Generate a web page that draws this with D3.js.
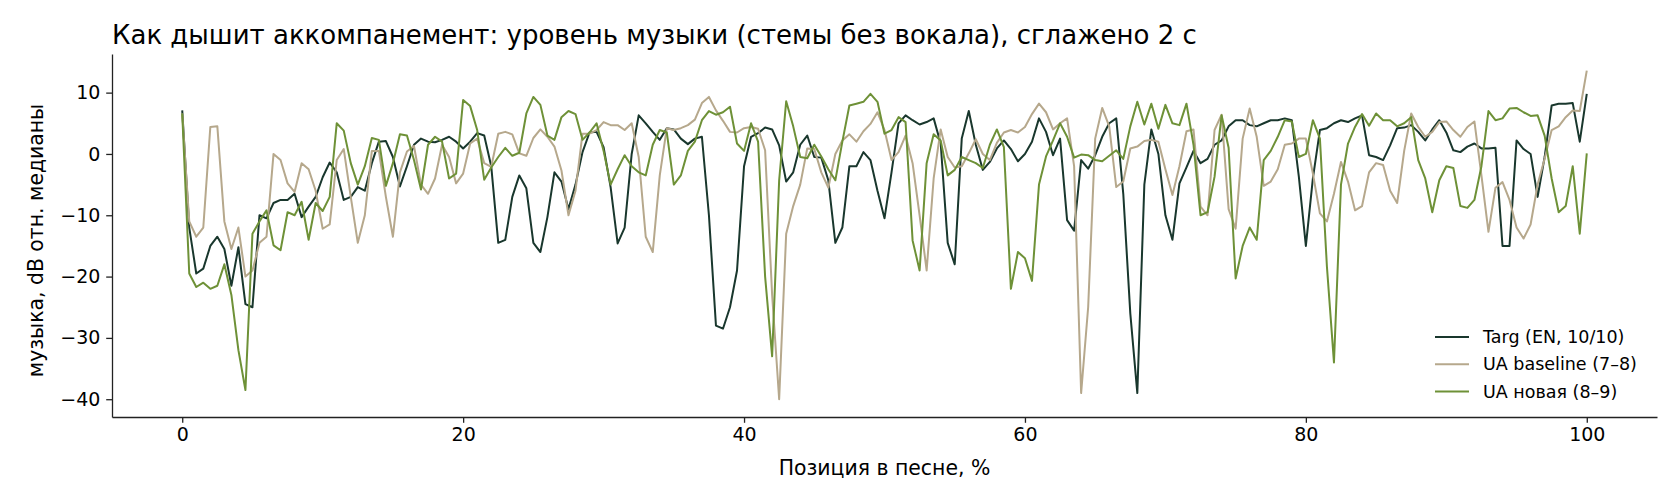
<!DOCTYPE html>
<head>
<meta charset="utf-8">
<title>Как дышит аккомпанемент</title>
<style>
body { margin: 0; background: #fff; }
svg text { font-family: "DejaVu Sans", sans-serif; fill: #000; }
.axis path, .axis line { stroke: #222; stroke-width: 1.3px; }
.axis text { font-size: 19px; }
.series { fill: none; stroke-width: 2px; stroke-linejoin: round; }
</style>
</head>
<body>
<script src="https://d3js.org/d3.v7.min.js"></script>
<script>

// Position in song, % (one sample every half percent)
var positions = [
  0, 0.5, 1, 1.5, 2, 2.5, 3, 3.5, 4, 4.5,
  5, 5.5, 6, 6.5, 7, 7.5, 8, 8.5, 9, 9.5,
  10, 10.5, 11, 11.5, 12, 12.5, 13, 13.5, 14, 14.5,
  15, 15.5, 16, 16.5, 17, 17.5, 18, 18.5, 19, 19.5,
  20, 20.5, 21, 21.5, 22, 22.5, 23, 23.5, 24, 24.5,
  25, 25.5, 26, 26.5, 27, 27.5, 28, 28.5, 29, 29.5,
  30, 30.5, 31, 31.5, 32, 32.5, 33, 33.5, 34, 34.5,
  35, 35.5, 36, 36.5, 37, 37.5, 38, 38.5, 39, 39.5,
  40, 40.5, 41, 41.5, 42, 42.5, 43, 43.5, 44, 44.5,
  45, 45.5, 46, 46.5, 47, 47.5, 48, 48.5, 49, 49.5,
  50, 50.5, 51, 51.5, 52, 52.5, 53, 53.5, 54, 54.5,
  55, 55.5, 56, 56.5, 57, 57.5, 58, 58.5, 59, 59.5,
  60, 60.5, 61, 61.5, 62, 62.5, 63, 63.5, 64, 64.5,
  65, 65.5, 66, 66.5, 67, 67.5, 68, 68.5, 69, 69.5,
  70, 70.5, 71, 71.5, 72, 72.5, 73, 73.5, 74, 74.5,
  75, 75.5, 76, 76.5, 77, 77.5, 78, 78.5, 79, 79.5,
  80, 80.5, 81, 81.5, 82, 82.5, 83, 83.5, 84, 84.5,
  85, 85.5, 86, 86.5, 87, 87.5, 88, 88.5, 89, 89.5,
  90, 90.5, 91, 91.5, 92, 92.5, 93, 93.5, 94, 94.5,
  95, 95.5, 96, 96.5, 97, 97.5, 98, 98.5, 99, 99.5,
  100
];

// Targ (EN, 10/10), dB relative to median
var targ = [
  7.1, -12, -19.5, -18.7, -15, -13.5, -15.5, -21.5, -15.2, -24.5,
  -25, -10, -10.5, -8, -7.5, -7.5, -6.5, -10.3, -8.6, -7,
  -3.8, -1.4, -3, -7.5, -7, -5.4, -6, -1.5, 2, 2.1,
  -0.5, -5.3, -2, 1.5, 2.5, 2, 1.9, 2.3, 2.8, 2,
  0.9, 2, 3.4, 3, -2, -14.5, -14, -7, -3.5, -5.6,
  -14.5, -16, -10.3, -3, -4.5, -9, -5, 0.3, 3.5, 3.6,
  1.1, -5.4, -14.6, -12, 0, 6.3, 5, 3.6, 2.3, 4.2,
  4, 2.5, 1.6, 2.5, 2.8, -10, -28, -28.5, -25, -19,
  -2, 2.8, 3.4, 4.3, 4, 1.4, -4.5, -3, 1.5, 3,
  -0.5, -0.6, -4.3, -14.5, -12, -2, -2, 0.3, -1, -6,
  -10.5, -3, 5, 6.3, 5.5, 4.8, 5.2, 5.8, 1.7, -14.5,
  -18, 2.5, 7, 1.5, -2.6, -1.3, 0.9, 2.2, 0.8, -1.2,
  0, 2, 5.8, 3.6, -0.2, 2.5, -10.8, -12.5, -1, -2.4,
  -0.2, 2.8, 5, 5.8, -6.5, -26, -39, -5, 4, 0,
  -10, -14, -4.8, -2.2, 0.5, -1.5, -0.8, 1.5, 2.2, 4.5,
  5.5, 5.5, 4.7, 4.5, 5, 5.5, 5.5, 5.8, 5.5, -3.7,
  -15, -4, 3.9, 4.2, 5, 5.5, 5.2, 5.8, 6.3, -0.2,
  -0.5, -1, 1.4, 4.2, 4.3, 4.7, 3.6, 2.2, 4, 5.5,
  3.5, 0.6, 0.3, 1.2, 1.7, 0.9, 0.9, 1, -15, -15,
  2.2, 0.8, 0, -7, -0.5, 7.9, 8.2, 8.2, 8.3, 2,
  9.8
];

// UA baseline (7–8)
var uaBaseline = [
  6.6, -11, -13.5, -12, 4.4, 4.5, -11, -15.5, -12, -20,
  -19, -14.5, -13.5, 0, -1, -4.8, -6.2, -1.5, -2.5, -6,
  -12.2, -11.5, -1, 0.8, -7, -14.5, -10, 0.5, 0.5, -7,
  -13.5, -3, 0.4, 1.3, -5, -6.5, -4, 1.5, -0.5, -4.8,
  -3.2, 1.7, 2.5, -1.5, -2.1, 3.3, 3.6, 3.2, 0.1, -0.3,
  2.6, 4, 2.8, 1.2, -2.7, -10, -6, 3.3, 3.3, 3.9,
  5.2, 4.7, 4.7, 3.9, 5, -0.5, -13.5, -16, -3.5, 4.2,
  3.9, 4.2, 4.7, 5.6, 8.3, 9.3, 7.1, 5.4, 3.6, 3.5,
  4.2, 4.4, 4.1, 0.6, -23, -40, -13, -8.5, -5, 0.9,
  0.8, -3, -5.5, 0, 2.2, 3.2, 2, 3.7, 4.9, 6.8,
  3.9, -1, 0.3, 3, -1.5, -10, -19, -4, 4, -0.5,
  -2.2, -2, 0.1, 2.4, 0, -1, 1.8, 3.5, 3.9, 3.5,
  4.4, 6.5, 8.2, 6.8, 4, 5, 5.8, -2, -39, -25,
  2.5, 7.5, 4.5, -5.4, -4.5, 0.9, 1.2, 2.1, 2.3, 2,
  -2.5, -6.7, -2, 3.7, 4, -8.6, -10, 3.9, 6.4, -9,
  -12.2, 2.5, 7.4, 2.8, -5.2, -4.5, -2.5, 1.5, 1.7, 2.5,
  2.5, -3.2, -9.7, -11, -6.5, -1.3, -4.5, -9.2, -8.5, -3,
  -1.5, -1.8, -6, -8, 0.5, 6.6, 4.4, 2.8, 3.6, 5.2,
  5.3, 3.9, 2.8, 4.4, 5.3, -3.5, -12.7, -5.5, -4.6, -7.5,
  -12, -13.8, -11.5, -5, -0.8, 3.9, 4.5, 6, 7.1, 7,
  13.6
];

// UA новая (8–9)
var uaNew = [
  6.6, -19.5, -21.7, -21, -22, -21.5, -18, -23, -32, -38.5,
  -13, -11, -9.2, -14.9, -15.7, -9.5, -10, -7.8, -14, -8,
  -9.3, -7, 5, 3.8, -1.5, -5, -2, 2.6, 2.3, -5.2,
  -1.5, 3.2, 3, -1, -5.8, 1.5, 2.8, 2, -4, -3.2,
  8.8, 7.8, 3.9, -4.2, -2.2, -0.5, 1, -0.3, 0.2, 6.6,
  9.3, 8, 3, 2.3, 6, 7, 6.5, 2.3, 3.5, 5,
  0.5, -5, -2.5, -0.2, -2, -3, -3.5, 1.5, 3.9, 3.5,
  -5, -3.5, 0.5, 2, 5.5, 7, 6.4, 6.8, 7.7, 1.7,
  0.5, 5, 2, -20, -33, -4.3, 8.6, 4.5, -0.5, -0.7,
  1.5, -0.4, -2.5, -4.3, 2, 7.9, 8.2, 8.5, 9.8, 8.5,
  3.3, 3.9, 6, 5.2, -14.1, -19, -1.5, 3.2, 2.2, -3.5,
  -2.6, -0.5, -1, -1.5, -2.3, 1.5, 4, 1.1, -22, -16,
  -17, -20.7, -5, -0.4, 2.2, 5, 2.8, -0.6, -0.1, -0.2,
  -1, -1.2, -0.3, 0.6, -0.8, 4.5, 8.5, 4.8, 8.2, 4.1,
  8, 5, 4.7, 8.2, 1.5, -10, -9.5, -3.7, 6.3, 1,
  -20.3, -15, -12, -14, -1, 0.5, 2.8, 5.5, 5.3, -0.5,
  0, 5.5, 2.5, -18.4, -34, -5, 1.7, 4.4, 6.5, 4.6,
  6.6, 5.5, 5.5, 4.5, 5, 6, -1, -4, -9.5, -4.3,
  -2, -2.3, -8.5, -8.8, -7.5, -2, 7, 5.5, 5.8, 7.4,
  7.5, 6.8, 6.2, 6.3, 3, -4, -9.5, -8.5, -2, -13,
  0.1
];

var seriesNames = ["Targ (EN, 10/10)", "UA baseline (7–8)", "UA новая (8–9)"];
var seriesColors = ["#19372d", "#b6a88c", "#6e9137"];
var xTicks = [0, 20, 40, 60, 80, 100];
var yTicks = [-40, -30, -20, -10, 0, 10];

var seriesValues = [targ, uaBaseline, uaNew];

// Graph margins and dimensions
var margin = {top: 54, right: 23, bottom: 87, left: 112},
    width = 1680 - margin.left - margin.right,
    height = 504 - margin.top - margin.bottom;

var x = d3.scaleLinear()
          .domain([-5, 105])
          .range([0, width]);
var y = d3.scaleLinear()
          .domain([-42.9, 16.3])
          .range([height, 0]);

var root = d3.select("body").append("svg")
    .attr("width", 1680)
    .attr("height", 504);

var svg = root.append("g")
    .attr("transform", "translate(" + margin.left + "," + margin.top + ")");

// minus sign like matplotlib
function fmt(d) { return d < 0 ? "\u2212" + Math.abs(d) : String(d); }

// x axis
svg.append("g")
    .attr("class", "axis")
    .attr("transform", "translate(0," + height + ")")
    .call(d3.axisBottom(x).tickValues(xTicks).tickFormat(fmt)
            .tickSize(5.8).tickSizeOuter(0).tickPadding(5))
    .selectAll("text").attr("fill", "#000");

// y axis
svg.append("g")
    .attr("class", "axis")
    .call(d3.axisLeft(y).tickValues(yTicks).tickFormat(fmt)
            .tickSize(5.8).tickSizeOuter(0).tickPadding(5.8))
    .selectAll("text").attr("fill", "#000");

// lines
var line = d3.line()
    .x(function(d, i) { return x(positions[i]); })
    .y(function(d) { return y(d); });

seriesValues.forEach(function(vals, k) {
  svg.append("path")
      .datum(vals)
      .attr("class", "series")
      .attr("stroke", seriesColors[k])
      .attr("d", line);
});

// title
root.append("text")
    .attr("x", margin.left)
    .attr("y", 44)
    .style("font-size", "26px")
    .text("Как дышит аккомпанемент: уровень музыки (стемы без вокала), сглажено 2 с");

// axis labels
root.append("text")
    .attr("x", margin.left + width / 2)
    .attr("y", 475)
    .attr("text-anchor", "middle")
    .style("font-size", "20.4px")
    .text("Позиция в песне, %");

root.append("text")
    .attr("transform", "translate(43," + (margin.top + height / 2 + 5) + ") rotate(-90)")
    .attr("text-anchor", "middle")
    .style("font-size", "20.4px")
    .text("музыка, dB отн. медианы");

// legend (lower right, no frame)
var legend = root.append("g")
    .attr("transform", "translate(1435,337)");

seriesNames.forEach(function(name, k) {
  var row = legend.append("g").attr("transform", "translate(0," + (k * 27.3) + ")");
  row.append("line")
      .attr("x1", 0).attr("x2", 34)
      .attr("stroke", seriesColors[k])
      .attr("stroke-width", 2);
  row.append("text")
      .attr("x", 48)
      .attr("dy", "0.35em")
      .style("font-size", "17.5px")
      .text(name);
});

</script>
</body>
</html>
